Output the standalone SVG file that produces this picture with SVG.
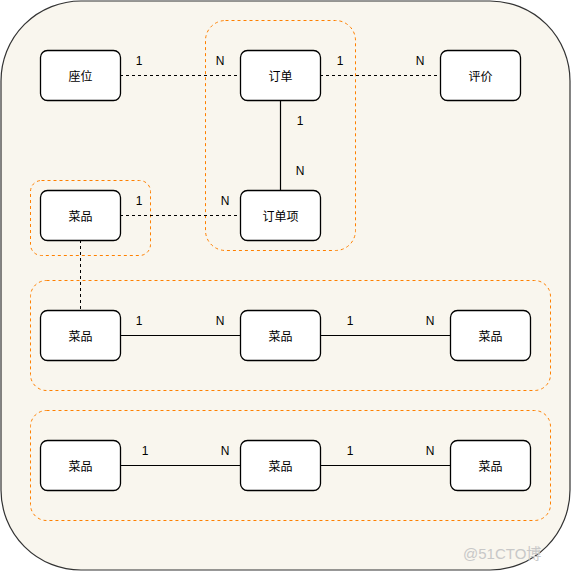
<svg xmlns="http://www.w3.org/2000/svg" width="571" height="571" viewBox="0 0 571 571">
<style>
.node rect{fill:#ffffff;stroke:#000;stroke-width:1.3}
.node text{font-family:"Noto Sans CJK SC","Liberation Sans",sans-serif;font-size:12px;text-anchor:middle;dominant-baseline:central;fill:#000}
.grp{fill:none;stroke:#ff8000;stroke-width:1;stroke-dasharray:3 3}
.dash{fill:none;stroke:#000;stroke-width:1;stroke-dasharray:3 3}
.solid{fill:none;stroke:#000;stroke-width:1.2}
.lbl{font-family:"Liberation Sans",Arial,sans-serif;font-size:12px;fill:#000;text-anchor:middle;dominant-baseline:central}
</style>
<rect x="1" y="1" width="569" height="569" rx="80" ry="80" fill="#f9f6ee" stroke="#333" stroke-width="1.2"/>
<g id="groups">
<rect class="grp" x="205.5" y="20.5" width="150" height="230" rx="20"/>
<rect class="grp" x="30.5" y="180.5" width="120" height="75" rx="11"/>
<rect class="grp" x="30.5" y="280.5" width="520" height="110" rx="16"/>
<rect class="grp" x="30.5" y="410.5" width="520" height="110" rx="16"/>
</g>
<g id="connectors">
<line class="dash" x1="120" y1="75.5" x2="240" y2="75.5"/>
<line class="dash" x1="320" y1="75.5" x2="440" y2="75.5"/>
<line class="solid" x1="280.5" y1="100" x2="280.5" y2="190"/>
<line class="dash" x1="120" y1="215.5" x2="240" y2="215.5"/>
<line class="dash" x1="80.5" y1="240" x2="80.5" y2="310"/>
<line class="solid" x1="120" y1="335.5" x2="240" y2="335.5"/>
<line class="solid" x1="320" y1="335.5" x2="450" y2="335.5"/>
<line class="solid" x1="120" y1="465.5" x2="240" y2="465.5"/>
<line class="solid" x1="320" y1="465.5" x2="450" y2="465.5"/>
<text class="lbl" x="139" y="61">1</text>
<text class="lbl" x="220" y="61">N</text>
<text class="lbl" x="340" y="61">1</text>
<text class="lbl" x="420" y="61">N</text>
<text class="lbl" x="300" y="121">1</text>
<text class="lbl" x="300" y="171">N</text>
<text class="lbl" x="139" y="201">1</text>
<text class="lbl" x="225" y="201">N</text>
<text class="lbl" x="139" y="321">1</text>
<text class="lbl" x="220" y="321">N</text>
<text class="lbl" x="350" y="321">1</text>
<text class="lbl" x="430" y="321">N</text>
<text class="lbl" x="145" y="451">1</text>
<text class="lbl" x="225" y="451">N</text>
<text class="lbl" x="350" y="451">1</text>
<text class="lbl" x="430" y="451">N</text>
</g>
<g id="n-seat" class="node"><rect x="40.5" y="50.5" width="80" height="50" rx="7"/><text x="80.5" y="75.5">座位</text></g>
<g id="n-order" class="node"><rect x="240.5" y="50.5" width="80" height="50" rx="7"/><text x="280.5" y="75.5">订单</text></g>
<g id="n-review" class="node"><rect x="440.5" y="50.5" width="80" height="50" rx="7"/><text x="480.5" y="75.5">评价</text></g>
<g id="n-dish" class="node"><rect x="40.5" y="190.5" width="80" height="50" rx="7"/><text x="80.5" y="215.5">菜品</text></g>
<g id="n-orderitem" class="node"><rect x="240.5" y="190.5" width="80" height="50" rx="7"/><text x="280.5" y="215.5">订单项</text></g>
<g id="n-r3a" class="node"><rect x="40.5" y="310.5" width="80" height="50" rx="7"/><text x="80.5" y="335.5">菜品</text></g>
<g id="n-r3b" class="node"><rect x="240.5" y="310.5" width="80" height="50" rx="7"/><text x="280.5" y="335.5">菜品</text></g>
<g id="n-r3c" class="node"><rect x="450.5" y="310.5" width="80" height="50" rx="7"/><text x="490.5" y="335.5">菜品</text></g>
<g id="n-r4a" class="node"><rect x="40.5" y="440.5" width="80" height="50" rx="7"/><text x="80.5" y="465.5">菜品</text></g>
<g id="n-r4b" class="node"><rect x="240.5" y="440.5" width="80" height="50" rx="7"/><text x="280.5" y="465.5">菜品</text></g>
<g id="n-r4c" class="node"><rect x="450.5" y="440.5" width="80" height="50" rx="7"/><text x="490.5" y="465.5">菜品</text></g>
<text x="463" y="559" font-family="'Liberation Sans','Noto Sans CJK SC',sans-serif" font-size="15" fill="#c8c8c8">@51CTO博</text>
</svg>
